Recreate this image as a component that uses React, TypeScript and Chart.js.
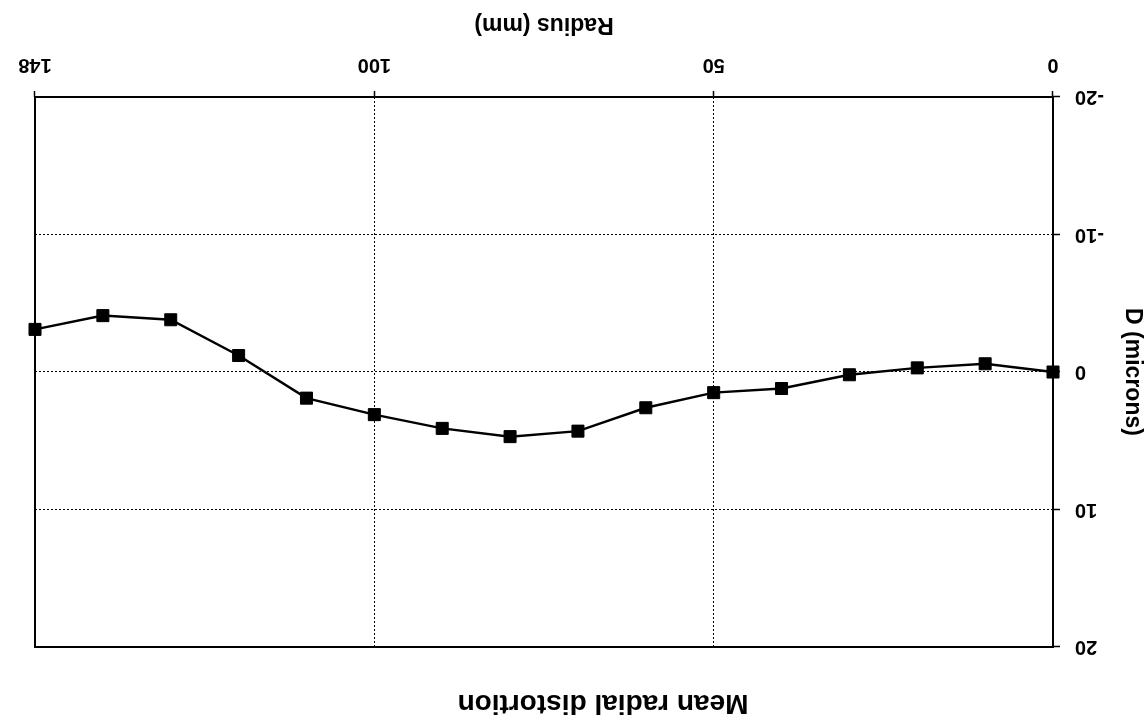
import React, { useEffect, useRef } from "react";
import { Chart, registerables } from "chart.js";

Chart.register(...registerables);

const chartTitle = "Mean radial distortion";
const xAxisTitle = "Radius (mm)";
const yAxisTitle = "D (microns)";
const radiusLabels = ["0", "10", "20", "30", "40", "50", "60", "70", "80", "90", "100", "110", "120", "130", "140", "148"];
const distortion = [0, -0.6, -0.3, 0.2, 1.2, 1.5, 2.6, 4.3, 4.7, 4.1, 3.1, 1.9, -1.2, -3.8, -4.1, -3.1];
const yMin = -20;
const yMax = 20;
const yStep = 10;
const xLabelEvery = 5;

const FONT = "'Liberation Sans', Arial, sans-serif";

export default function App() {
  const ref = useRef<HTMLCanvasElement | null>(null);

  useEffect(() => {
    if (!ref.current) return;
    const framePlugin = {
      id: "frameAndTitle",
      afterDatasetsDraw(chart: any) {
        const { ctx, chartArea } = chart;
        ctx.save();
        ctx.strokeStyle = "#000";
        ctx.lineWidth = 2;
        ctx.strokeRect(chartArea.left, chartArea.top, chartArea.right - chartArea.left, chartArea.bottom - chartArea.top);
        ctx.restore();
      },
      afterDraw(chart: any) {
        const { ctx } = chart;
        ctx.save();
        ctx.fillStyle = "#000";
        ctx.font = `bold 28px ${FONT}`;
        ctx.textAlign = "center";
        ctx.textBaseline = "alphabetic";
        ctx.fillText(chartTitle, 541, 27);
        ctx.restore();
      },
    };

    const chart = new Chart(ref.current, {
      type: "line",
      data: {
        labels: radiusLabels,
        datasets: [
          {
            data: distortion,
            borderColor: "#000",
            backgroundColor: "#000",
            borderWidth: 2.5,
            pointStyle: "rect",
            pointRadius: 8.5,
            pointBorderWidth: 1,
            pointBackgroundColor: "#000",
            pointBorderColor: "#000",
            tension: 0,
          },
        ],
      },
      options: {
        animation: false,
        responsive: false,
        events: [],
        layout: { padding: { top: 75, right: 35, left: 0, bottom: 0 } },
        plugins: { legend: { display: false }, tooltip: { enabled: false }, title: { display: false } },
        scales: {
          x: {
            type: "category",
            offset: false,
            afterFit(scale: any) {
              scale.height = 97;
            },
            border: { display: false, dash: [2, 2] },
            grid: {
              color: (c: any) => (c.index % xLabelEvery === 0 ? "#000" : "rgba(0,0,0,0)"),
              tickColor: (c: any) => (c.index % xLabelEvery === 0 ? "#000" : "rgba(0,0,0,0)"),
              lineWidth: 1,
              tickWidth: 1.5,
              tickLength: 6,
              tickBorderDash: [],
            },
            ticks: {
              autoSkip: false,
              maxRotation: 0,
              minRotation: 0,
              padding: 14,
              color: "#000",
              font: { family: FONT, size: 20, weight: "bold" },
              callback(value: any, index: number) {
                return index % xLabelEvery === 0 ? radiusLabels[index] : "";
              },
            },
            title: {
              display: true,
              text: xAxisTitle,
              color: "#000",
              font: { family: FONT, size: 23, weight: "bold", lineHeight: 1 },
              padding: { top: 0, bottom: 13 },
            },
          },
          y: {
            min: yMin,
            max: yMax,
            afterFit(scale: any) {
              scale.width = 91;
            },
            border: { display: false, dash: [2, 2] },
            grid: {
              color: "#000",
              lineWidth: 1,
              tickColor: "#000",
              tickWidth: 1.5,
              tickLength: 7,
              tickBorderDash: [],
            },
            ticks: {
              stepSize: yStep,
              padding: 15,
              color: "#000",
              font: { family: FONT, size: 20, weight: "bold" },
            },
            title: {
              display: true,
              text: yAxisTitle,
              color: "#000",
              font: { family: FONT, size: 23, weight: "bold", lineHeight: 1 },
              padding: { top: 0, bottom: 0 },
            },
          },
        },
      } as any,
      plugins: [framePlugin],
    });
    return () => chart.destroy();
  }, []);

  return (
    <div
      style={{
        position: "fixed",
        left: 0,
        top: 0,
        width: 1144,
        height: 722,
        background: "#fff",
        transform: "rotate(180deg)",
      }}
    >
      <canvas ref={ref} width={1144} height={722} style={{ display: "block" }} />
    </div>
  );
}
